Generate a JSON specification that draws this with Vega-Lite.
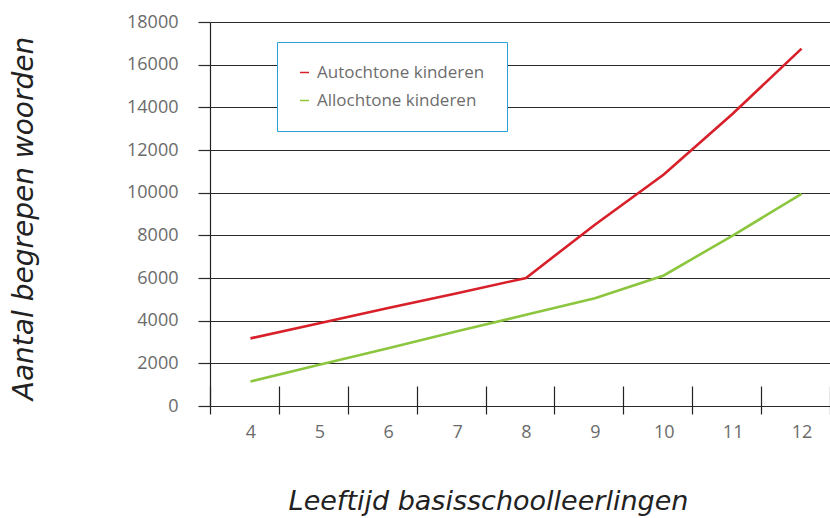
{
  "$schema": "https://vega.github.io/schema/vega-lite/v6.json",
  "autosize": {"type": "none"},
  "padding": {"left": 210, "top": 22, "right": 0, "bottom": 112},
  "width": 620,
  "height": 384,
  "background": "white",
  "config": {"view": {"stroke": null}},
  "data": {
    "values": [
      {"leeftijd": "4", "groep": "Autochtone kinderen", "woorden": 3170},
      {"leeftijd": "5", "groep": "Autochtone kinderen", "woorden": 3880},
      {"leeftijd": "6", "groep": "Autochtone kinderen", "woorden": 4590},
      {"leeftijd": "7", "groep": "Autochtone kinderen", "woorden": 5290},
      {"leeftijd": "8", "groep": "Autochtone kinderen", "woorden": 6000},
      {"leeftijd": "9", "groep": "Autochtone kinderen", "woorden": 8500},
      {"leeftijd": "10", "groep": "Autochtone kinderen", "woorden": 10850},
      {"leeftijd": "11", "groep": "Autochtone kinderen", "woorden": 13700},
      {"leeftijd": "12", "groep": "Autochtone kinderen", "woorden": 16750},
      {"leeftijd": "4", "groep": "Allochtone kinderen", "woorden": 1150},
      {"leeftijd": "5", "groep": "Allochtone kinderen", "woorden": 1930},
      {"leeftijd": "6", "groep": "Allochtone kinderen", "woorden": 2710},
      {"leeftijd": "7", "groep": "Allochtone kinderen", "woorden": 3500},
      {"leeftijd": "8", "groep": "Allochtone kinderen", "woorden": 4280},
      {"leeftijd": "9", "groep": "Allochtone kinderen", "woorden": 5050},
      {"leeftijd": "10", "groep": "Allochtone kinderen", "woorden": 6120},
      {"leeftijd": "11", "groep": "Allochtone kinderen", "woorden": 7990},
      {"leeftijd": "12", "groep": "Allochtone kinderen", "woorden": 9940}
    ]
  },
  "mark": {"type": "line", "strokeWidth": 2.6, "xOffset": 6},
  "encoding": {
    "x": {
      "field": "leeftijd",
      "type": "ordinal",
      "sort": ["4", "5", "6", "7", "8", "9", "10", "11", "12"],
      "scale": {"type": "band", "paddingInner": 0, "paddingOuter": 0},
      "axis": {
        "orient": "bottom",
        "offset": -20,
        "domain": false,
        "grid": false,
        "tickBand": "extent",
        "tickSize": 28,
        "tickColor": "#222222",
        "tickWidth": 1.2,
        "labelAngle": 0,
        "labelOffset": 6,
        "labelBaseline": "middle",
        "labelPadding": 18,
        "labelFont": "Open Sans",
        "labelFontSize": 18,
        "labelColor": "#6b6b6b",
        "title": "Leeftijd basisschoolleerlingen",
        "titleFont": "DejaVu Sans",
        "titleFontStyle": "italic",
        "titleFontWeight": "normal",
        "titleFontSize": 27,
        "titleColor": "#222222",
        "titleAnchor": "middle",
        "titleBaseline": "middle",
        "titleX": 278,
        "titleY": 115
      }
    },
    "y": {
      "field": "woorden",
      "type": "quantitative",
      "scale": {"domain": [0, 18000], "nice": false},
      "axis": {
        "values": [0, 2000, 4000, 6000, 8000, 10000, 12000, 14000, 16000, 18000],
        "format": "d",
        "domain": true,
        "domainColor": "#222222",
        "domainWidth": 1.2,
        "grid": true,
        "gridColor": "#2a2a2a",
        "gridWidth": 1.2,
        "gridOpacity": 1,
        "tickSize": 12,
        "tickColor": "#2a2a2a",
        "tickWidth": 1.2,
        "labelPadding": 20,
        "labelFont": "Open Sans",
        "labelFontSize": 18,
        "labelColor": "#6b6b6b",
        "title": "Aantal begrepen woorden",
        "titleFont": "DejaVu Sans",
        "titleFontStyle": "italic",
        "titleFontWeight": "normal",
        "titleFontSize": 28,
        "titleColor": "#222222",
        "titleAngle": -90,
        "titleAnchor": "middle",
        "titleBaseline": "middle",
        "titleX": -186,
        "titleY": 196
      }
    },
    "color": {
      "field": "groep",
      "type": "nominal",
      "sort": ["Autochtone kinderen", "Allochtone kinderen"],
      "scale": {
        "domain": ["Autochtone kinderen", "Allochtone kinderen"],
        "range": ["#d7202a", "#8cc63f"]
      },
      "legend": {
        "orient": "none",
        "legendX": 67,
        "legendY": 20,
        "title": null,
        "padding": 22,
        "strokeColor": "#2a9fd8",
        "fillColor": "white",
        "symbolType": "stroke",
        "symbolSize": 81,
        "symbolStrokeWidth": 1.5,
        "symbolOffset": -3,
        "labelFont": "Open Sans",
        "labelFontSize": 17,
        "labelLimit": 400,
        "labelColor": "#6d6d6d",
        "labelOffset": 4,
        "rowPadding": 10
      }
    }
  }
}
